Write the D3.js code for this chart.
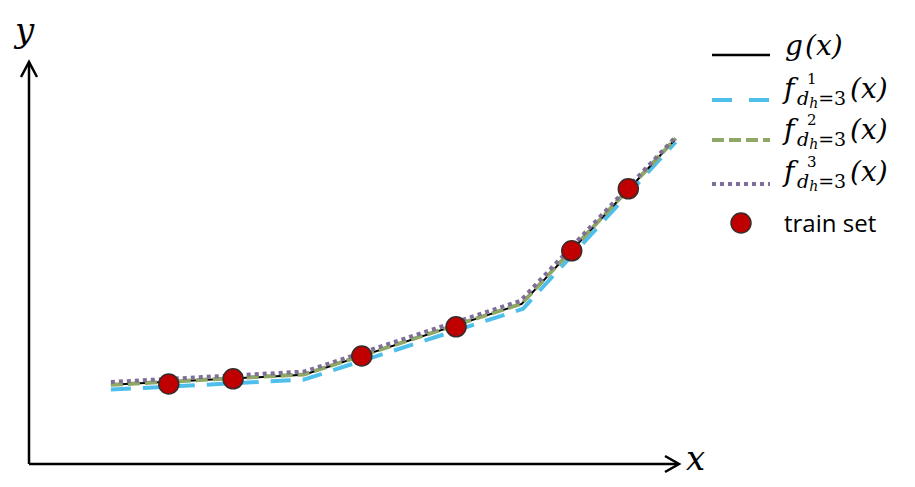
<!DOCTYPE html>
<html>
<head>
<meta charset="utf-8">
<script src="https://cdn.jsdelivr.net/npm/d3@7"></script>
<style>
  body { margin: 0; background: #fff; }
  svg { display: block; }
</style>
</head>
<body>
<div id="chart"></div>
<script>
// ---------------------------------------------------------------------------
// Data (x, y in arbitrary axis units)

const gX = [1.26, 4.23, 7.58, 9.95];
const gY = [1.98, 2.23, 4.00, 8.13];

const f1X = [1.26, 4.23, 7.60, 9.95];
const f1Y = [1.86, 2.11, 3.88, 8.05];

const f2X = [1.26, 4.23, 7.58, 9.95];
const f2Y = [1.98, 2.24, 4.01, 8.14];

const f3X = [1.26, 4.23, 7.56, 9.95];
const f3Y = [2.05, 2.31, 4.08, 8.18];

const trainX = [2.15, 3.14, 5.12, 6.57, 8.35, 9.22];
const trainY = [2.00, 2.13, 2.70, 3.43, 5.33, 6.88];

const legendLabels = ['g(x)', '1', '2', '3', 'train set'];

// ---------------------------------------------------------------------------
// Setup

const width = 915;
const height = 487;

const x = d3.scaleLinear().domain([0, 10]).range([29, 679]);
const y = d3.scaleLinear().domain([0, 10]).range([464, 64]);

const svg = d3.select('#chart')
  .append('svg')
  .attr('width', width)
  .attr('height', height);

const mathFont = 'DejaVu Serif, serif';

// axes with open arrow heads
const axisG = svg.append('g')
  .attr('stroke', '#000')
  .attr('stroke-width', 2.5)
  .attr('fill', 'none');

axisG.append('line')
  .attr('x1', x(0)).attr('y1', y(0))
  .attr('x2', x(10)).attr('y2', y(0));
axisG.append('line')
  .attr('x1', x(0)).attr('y1', y(0))
  .attr('x2', x(0)).attr('y2', y(10) - 2);
axisG.append('path')
  .attr('d', `M${x(10) - 14},${y(0) - 8}L${x(10)},${y(0)}L${x(10) - 14},${y(0) + 8}`);
axisG.append('path')
  .attr('d', `M${x(0) - 8},${y(10) + 13}L${x(0)},${y(10) - 2}L${x(0) + 8},${y(10) + 13}`);

svg.append('text')
  .attr('x', 15).attr('y', 42)
  .attr('font-family', mathFont)
  .attr('font-style', 'italic')
  .attr('font-size', 34)
  .text('y');

svg.append('text')
  .attr('x', 686).attr('y', 470)
  .attr('font-family', mathFont)
  .attr('font-style', 'italic')
  .attr('font-size', 34)
  .text('x');

// ---------------------------------------------------------------------------
// Lines

const line = d3.line()
  .x(d => x(d[0]))
  .y(d => y(d[1]));

const series = [
  {xs: gX, ys: gY, color: '#000000', w: 2, dash: null},
  {xs: f1X, ys: f1Y, color: '#4DBFEA', w: 4, dash: '20,12'},
  {xs: f2X, ys: f2Y, color: '#8FA866', w: 4, dash: '12,5'},
  {xs: f3X, ys: f3Y, color: '#7E6E98', w: 4, dash: '4,4'}
];

// draw blue first, then the others on top of it
[1, 0, 2, 3].forEach(i => {
  const s = series[i];
  svg.append('path')
    .datum(d3.zip(s.xs, s.ys))
    .attr('d', line)
    .attr('fill', 'none')
    .attr('stroke', s.color)
    .attr('stroke-width', s.w)
    .attr('stroke-dasharray', s.dash);
});

svg.selectAll('circle.train')
  .data(d3.zip(trainX, trainY))
  .enter()
  .append('circle')
  .attr('class', 'train')
  .attr('cx', d => x(d[0]))
  .attr('cy', d => y(d[1]))
  .attr('r', 10)
  .attr('fill', '#C00000')
  .attr('stroke', '#3a2a2a')
  .attr('stroke-width', 1.5);

// ---------------------------------------------------------------------------
// Legend

const legend = svg.append('g');
const lineRows = [55, 100, 140, 184];

series.forEach((s, i) => {
  legend.append('line')
    .attr('x1', 712).attr('x2', 770)
    .attr('y1', lineRows[i]).attr('y2', lineRows[i])
    .attr('stroke', s.color)
    .attr('stroke-width', s.w === 2 ? 2.5 : 4)
    .attr('stroke-dasharray', i === 1 ? '20,17' : s.dash);
});

const g0 = legend.append('text')
  .attr('y', 55)
  .attr('font-family', mathFont)
  .attr('font-style', 'italic')
  .attr('font-size', 28);
g0.append('tspan').attr('x', 785).text('g');
g0.append('tspan').attr('x', 805).text('(x)');

const fBase = [98, 139, 181];
[1, 2, 3].forEach((k, i) => {
  const b = fBase[i];
  const t = legend.append('g')
    .attr('font-family', mathFont)
    .attr('font-style', 'italic');
  t.append('text').attr('x', 784).attr('y', b).attr('font-size', 28).text('f');
  t.append('text').attr('x', 807).attr('y', b - 14).attr('font-size', 15)
    .attr('font-style', 'normal').text(legendLabels[k]);
  const sub = t.append('text').attr('x', 797).attr('y', b + 7).attr('font-size', 19);
  sub.append('tspan').text('d');
  sub.append('tspan').attr('dy', 3).attr('font-size', 14).text('h');
  sub.append('tspan').attr('dy', -3).attr('font-style', 'normal').text('=3');
  t.append('text').attr('x', 850).attr('y', b).attr('font-size', 28).text('(x)');
});

legend.append('circle')
  .attr('cx', 741).attr('cy', 223)
  .attr('r', 10)
  .attr('fill', '#C00000')
  .attr('stroke', '#3a2a2a')
  .attr('stroke-width', 1.5);

legend.append('text')
  .attr('x', 784).attr('y', 232)
  .attr('font-family', 'Open Sans, sans-serif')
  .attr('font-size', 24)
  .text(legendLabels[4]);
</script>
</body>
</html>
